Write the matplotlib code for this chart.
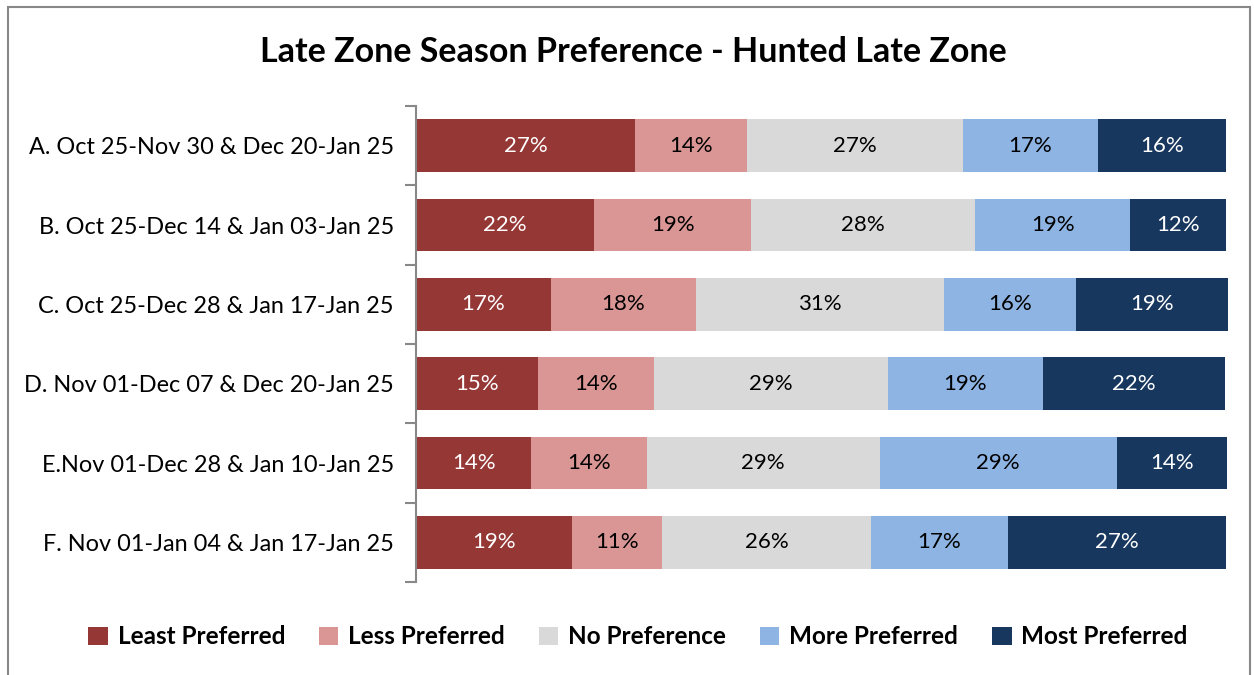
import numpy as np
import matplotlib.pyplot as plt
from matplotlib.patches import Rectangle

# Data
categories = ['A. Oct 25-Nov 30 & Dec 20-Jan 25',
              'B. Oct 25-Dec 14 & Jan 03-Jan 25',
              'C. Oct 25-Dec 28 & Jan 17-Jan 25',
              'D. Nov 01-Dec 07 & Dec 20-Jan 25',
              'E.Nov 01-Dec 28 & Jan 10-Jan 25',
              'F. Nov 01-Jan 04 & Jan 17-Jan 25']
series = ['Least Preferred', 'Less Preferred', 'No Preference', 'More Preferred', 'Most Preferred']
least = [27.0, 22.0, 16.6, 15.0, 14.2, 19.2]
less = [13.9, 19.4, 17.9, 14.4, 14.3, 11.2]
nopref = [26.6, 27.6, 30.7, 28.8, 28.7, 25.7]
more = [16.6, 19.1, 16.3, 19.2, 29.3, 16.9]
most = [15.9, 11.8, 18.7, 22.4, 13.6, 27.0]

colors = ['#953735', '#D99694', '#D9D9D9', '#8EB4E3', '#17375E']
text_colors = ['white', 'black', 'black', 'black', 'white']

plt.rcParams['font.family'] = ['Lato', 'DejaVu Sans']

fig = plt.figure(figsize=(12.54, 6.75), dpi=100)
ax = fig.add_axes([416/1254, 1 - 582/675, (1228-416)/1254, (582-106)/675])

y = np.arange(len(categories))[::-1]
left = np.zeros(len(categories))
for vals, name, c, tc in zip([least, less, nopref, more, most], series, colors, text_colors):
    vals = np.array(vals)
    ax.barh(y, vals, left=left, height=0.66, color=c, label=name, edgecolor='none')
    for yi, l, v in zip(y, left, vals):
        ax.text(l + v/2, yi, '%.0f%%' % v, ha='center', va='center', color=tc, fontsize=16)
    left += vals

ax.set_xlim(0, left.max())
ax.set_ylim(-0.5, len(categories) - 0.5)
ax.set_yticks(y)
ax.set_yticklabels(categories, fontsize=16.9)
ax.set_yticks(np.arange(-0.5, len(categories)), minor=True)
ax.tick_params(axis='y', which='major', length=0, pad=16)
ax.tick_params(axis='y', which='minor', length=8, color='#888888', width=1.5)
ax.set_xticks([])
for s in ['top', 'right', 'bottom']:
    ax.spines[s].set_visible(False)
ax.spines['left'].set_color('#888888')
ax.spines['left'].set_linewidth(1.5)

fig.suptitle('Late Zone Season Preference - Hunted Late Zone', x=633/1254, y=1 - 52/675, va='center',
             fontsize=24.5, fontweight='bold')

fig.legend(loc='center', bbox_to_anchor=(638/1254, 1 - 637/675), ncol=5, frameon=False,
           prop={'size': 17.5, 'weight': 'bold'}, handlelength=0.8, handleheight=0.8,
           handletextpad=0.4, columnspacing=1.4)

fig.patches.append(Rectangle((8/1254, -0.01), (1250-8)/1254, 1 - 7/675 + 0.01,
                             transform=fig.transFigure, fill=False, edgecolor='#888888', lw=1.5))

fig.savefig('out.png', dpi=100)
